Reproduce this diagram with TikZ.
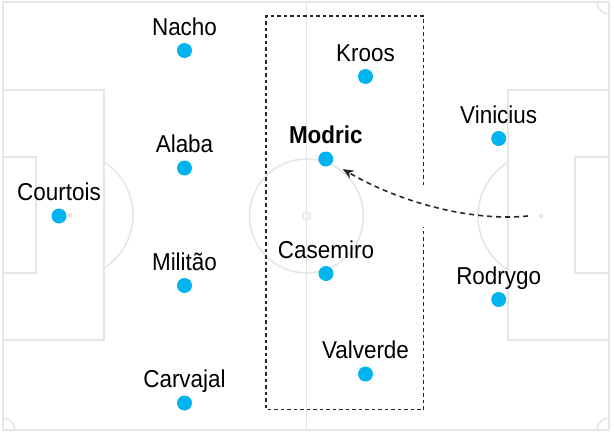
\documentclass[tikz,border=0pt]{standalone}
\usepackage{fontspec}
\setmainfont[FakeStretch=0.92]{Liberation Sans}
\usepackage{tikz}
\usetikzlibrary{arrows.meta,positioning}
\definecolor{pitchgray}{HTML}{E6E6E6}
\definecolor{playercyan}{HTML}{00B4F0}

\begin{document}
\begin{tikzpicture}[x=1pt,y=-1pt,
  pitch/.style={draw=pitchgray,line width=1.6pt},
  player/.style={circle,fill=playercyan,inner sep=0pt,minimum size=15pt},
  lbl/.style={anchor=base,inner sep=0pt,font=\fontsize{24.4}{29}\selectfont},
  spot/.style={circle,fill=pitchgray,inner sep=0pt,minimum size=5pt},
  zone/.style={draw=black!85,line width=1.4pt,dash pattern=on 3.5pt off 3pt},
  run/.style={-{Stealth[length=11pt,width=9pt]},draw=black!85,line width=1.6pt,dash pattern=on 5pt off 4pt,shorten >=12pt}
]
\useasboundingbox (0,0) rectangle (614,434);
% pitch markings
\draw[pitch] (3,2) rectangle (609,430);
\draw[pitch] (306.5,2) -- (306.5,430);
\draw[pitch] (306.5,216) circle (57);
\draw[pitch] (306.5,216) circle (4);
\draw[pitch] (3,90) rectangle (104,340);
\draw[pitch] (3,157) rectangle (36,273);
\draw[pitch] (508,90) rectangle (609,340);
\draw[pitch] (575,157) rectangle (609,273);
\begin{scope}
  \clip (104,0) rectangle (200,434);
  \draw[pitch] (70,215) circle (63);
\end{scope}
\begin{scope}
  \clip (420,0) rectangle (508,434);
  \draw[pitch] (541,216) circle (63);
\end{scope}
\begin{scope}
  \clip (3,2) rectangle (609,430);
  \draw[pitch] (609,2) circle (12);
  \draw[pitch] (3,430) circle (12);
  \draw[pitch] (609,430) circle (12);
\end{scope}
\node[spot] (spotl) at (70,215) {};
\node[spot] (spotr) at (541,216) {};

% midfield zone
\draw[zone] (423.5,185) -- (423.5,16) -- (266,16) -- (266,409.5) -- (423.5,409.5) -- (423.5,227);

% players
\node[player] (courtois) at (59,216) {};
\node[player] (nacho)    at (184.5,50.5) {};
\node[player] (alaba)    at (184.5,168) {};
\node[player] (militao)  at (184.5,285.5) {};
\node[player] (carvajal) at (184.5,403) {};
\node[player] (kroos)    at (365.5,76.5) {};
\node[player] (modric)   at (325.8,159) {};
\node[player] (casemiro) at (326,273.5) {};
\node[player] (valverde) at (365.5,374) {};
\node[player] (vinicius) at (498.7,138.5) {};
\node[player] (rodrygo)  at (498.7,299.5) {};

\node[above=15.5pt of courtois.center,lbl] (lcourtois) {Courtois};
\node[above=15.5pt of nacho.center,lbl]    (lnacho)    {Nacho};
\node[above=15.5pt of alaba.center,lbl]    (lalaba)    {Alaba};
\node[above=15.5pt of militao.center,lbl]  (lmilitao)  {Militão};
\node[above=15.5pt of carvajal.center,lbl] (lcarvajal) {Carvajal};
\node[above=15.5pt of kroos.center,lbl]    (lkroos)    {Kroos};
\node[above=15.5pt of modric.center,lbl]   (lmodric)   {\textbf{Modric}};
\node[above=15.5pt of casemiro.center,lbl] (lcasemiro) {Casemiro};
\node[above=15.5pt of valverde.center,lbl] (lvalverde) {Valverde};
\node[above=15.5pt of vinicius.center,lbl] (lvinicius) {Vinicius};
\node[above=15.5pt of rodrygo.center,lbl]  (lrodrygo)  {Rodrygo};

% Modric drops from the right
\coordinate (runstart) at (528,216);
\draw[run] (runstart) .. controls (468,222) and (395,200) .. (modric);
\end{tikzpicture}
\end{document}
